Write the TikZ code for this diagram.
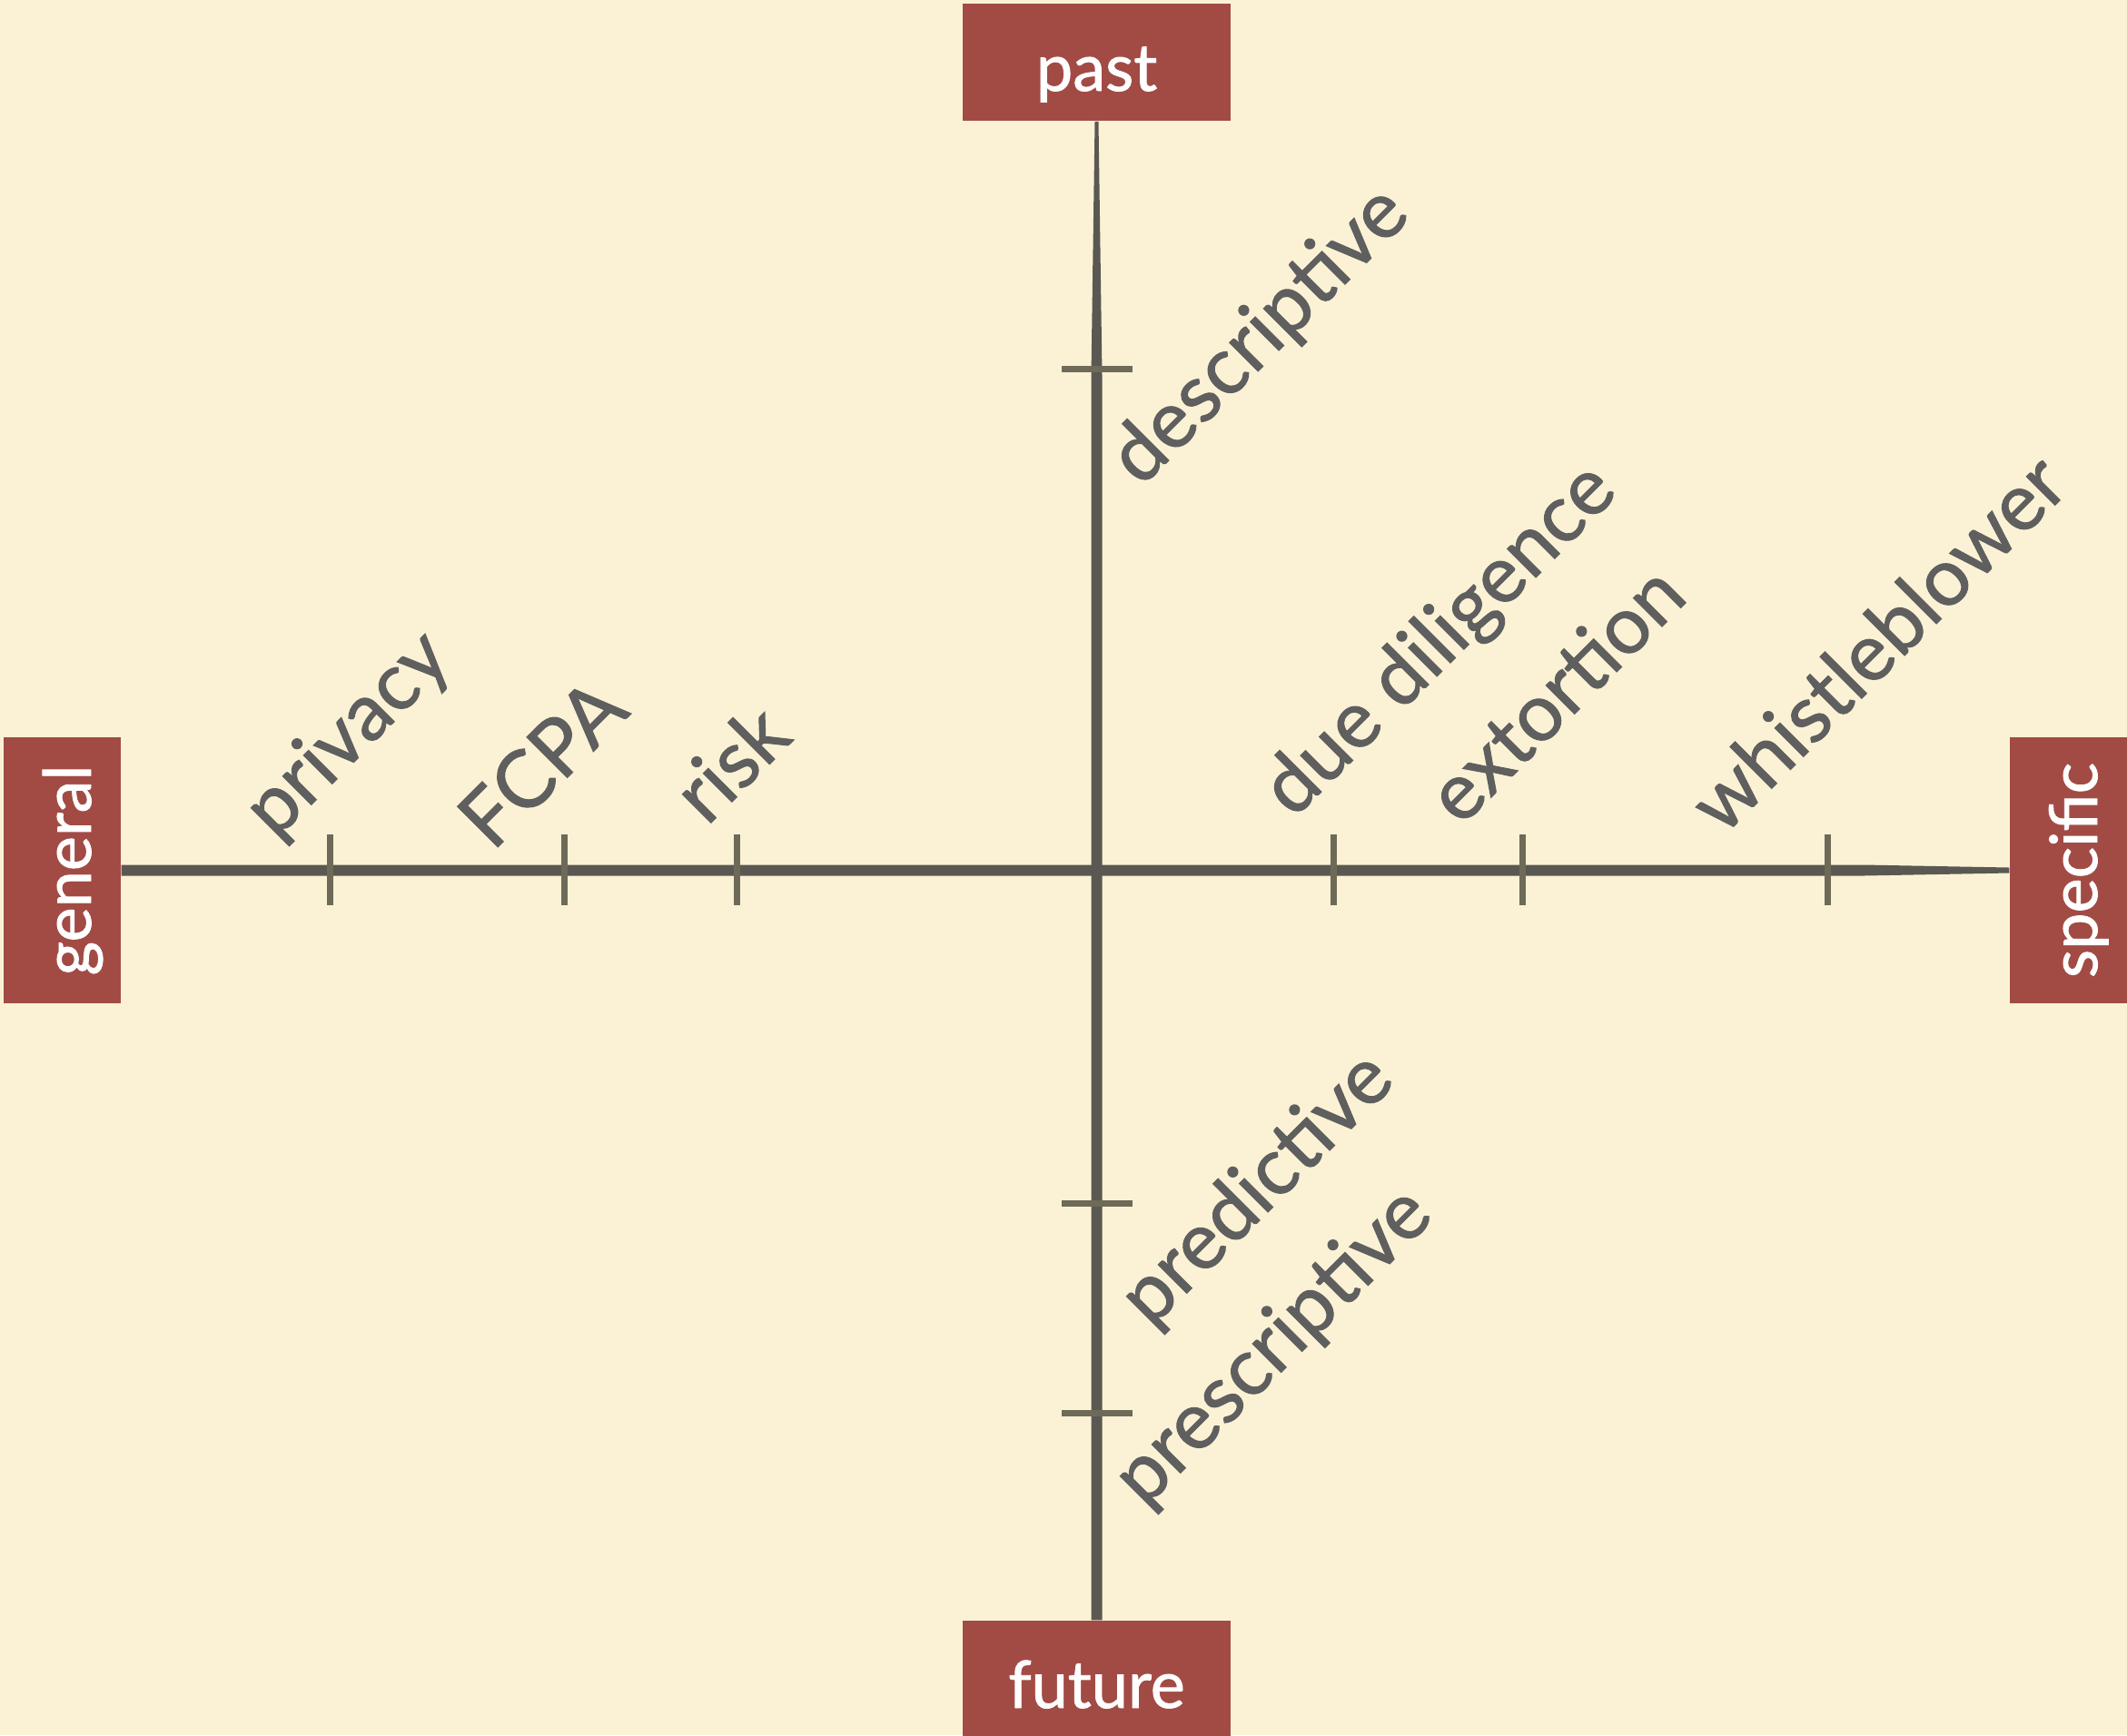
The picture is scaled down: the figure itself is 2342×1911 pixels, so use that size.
\documentclass[tikz,border=0pt]{standalone}
\usepackage{fontspec}
\setmainfont{Lato}[FakeBold=1.2]
\usetikzlibrary{calc}
\definecolor{bg}{HTML}{FBF2D5}
\definecolor{boxred}{HTML}{A24B45}
\definecolor{axisgray}{HTML}{5A5852}
\definecolor{tickgray}{HTML}{6E6A58}
\definecolor{labelgray}{HTML}{5F5F5F}
\begin{document}
\begin{tikzpicture}[x=0.01cm,y=-0.01cm,
  endbox/.style={fill=boxred, text=white, inner sep=0pt,
    font=\fontsize{20.5}{24}\selectfont, text height=0.63cm, text depth=0pt,
    minimum width=2.95cm, minimum height=1.29cm},
  axisline/.style={fill=axisgray},
  tickmark/.style={draw=tickgray, line width=0.07cm},
  lbl/.style={anchor=base west, rotate=45, text=labelgray, inner sep=0pt,
    font=\fontsize{25}{30}\selectfont}]
\useasboundingbox (0,0) rectangle (2342,1911);
\fill[bg] (0,0) rectangle (2342,1911);
% end boxes
\node[endbox] (past) at (1207.5,68.5) {past};
\node[endbox] (future) at (1207.5,1849.5) {future};
\node[endbox, rotate=90, minimum width=2.93cm] (general) at (68.5,958.5) {general};
\node[endbox, rotate=90, minimum width=2.93cm] (specific) at (2277.5,958.5) {specific};
% axes
\coordinate (vtop) at (past.south);
\coordinate (vbot) at (future.north);
\fill[axisline] ($(vtop)+(-2,0)$) -- ($(vtop)+(2,0)$) -- ($(vtop)+(6,280)$)
  -- ($(vbot)+(6,0)$) -- ($(vbot)+(-6,0)$) -- ($(vtop)+(-6,280)$) -- cycle;
\coordinate (hl) at (general.south);
\coordinate (hr) at (specific.north);
\fill[axisline] ($(hl)+(0,-6)$) -- ($(hr)+(-160,-6)$) -- ($(hr)+(0,-3)$)
  -- ($(hr)+(0,3)$) -- ($(hr)+(-160,6)$) -- ($(hl)+(0,6)$) -- cycle;
% ticks on horizontal axis
\foreach \tx/\nm in {363/tp,621/tf,811/tr,1468/td,1676/te,2012/tw}{
  \coordinate (\nm) at (\tx,958);
  \draw[tickmark] ($(\nm)+(0,-39)$) -- ($(\nm)+(0,39)$);
}
% ticks on vertical axis
\foreach \ty/\nm in {406/tds,1325/tpd,1556/tps}{
  \coordinate (\nm) at (1208,\ty);
  \draw[tickmark] ($(\nm)+(-39,0)$) -- ($(\nm)+(39,0)$);
}
% labels
\node[lbl] (privacy) at (303,926) {privacy};
\node[lbl] (fcpa) at (542,939) {FCPA};
\node[lbl] (risk) at (778,911) {risk};
\node[lbl] (duediligence) at (1424,903) {due diligence};
\node[lbl] (extortion) at (1608,912) {extortion};
\node[lbl] (whistleblower) at (1897,922) {whistleblower};
\node[lbl] (descriptive) at (1256,538) {descriptive};
\node[lbl] (predictive) at (1267,1464) {predictive};
\node[lbl] (prescriptive) at (1260,1662) {prescriptive};
\end{tikzpicture}
\end{document}
